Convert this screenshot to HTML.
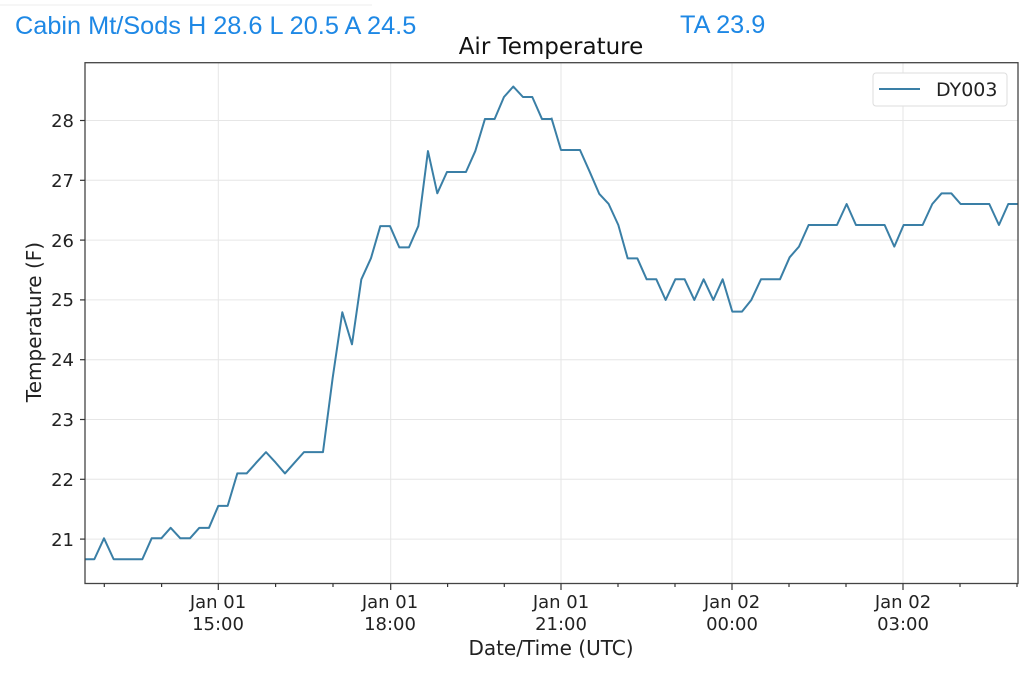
<!DOCTYPE html>
<html><head><meta charset="utf-8"><style>
body{margin:0;background:#fff;width:1024px;height:672px;overflow:hidden}
svg{font-family:"DejaVu Sans","Liberation Sans",sans-serif}
</style></head><body>
<svg width="1024" height="672" viewBox="0 0 1024 672">
<line x1="0" y1="5" x2="372" y2="5" stroke="#eee" stroke-width="1"/>
<text x="15" y="34" font-family="Liberation Sans, sans-serif" font-size="25.3" fill="#1e88e5">Cabin Mt/Sods H 28.6 L 20.5 A 24.5</text>
<text x="680" y="33" font-family="Liberation Sans, sans-serif" font-size="25.3" fill="#1e88e5">TA 23.9</text>
<text x="551" y="54" font-size="23" text-anchor="middle" fill="#111">Air Temperature</text>
<g stroke="#e6e6e6" stroke-width="1">
<line x1="85" x2="1018" y1="120.5" y2="120.5"/><line x1="85" x2="1018" y1="180.3" y2="180.3"/>
<line x1="85" x2="1018" y1="240.1" y2="240.1"/><line x1="85" x2="1018" y1="299.9" y2="299.9"/>
<line x1="85" x2="1018" y1="359.7" y2="359.7"/><line x1="85" x2="1018" y1="419.5" y2="419.5"/>
<line x1="85" x2="1018" y1="479.3" y2="479.3"/><line x1="85" x2="1018" y1="539.1" y2="539.1"/>
<line y1="63" y2="583.5" x1="218.3" x2="218.3"/><line y1="63" y2="583.5" x1="390.7" x2="390.7"/>
<line y1="63" y2="583.5" x1="561" x2="561"/><line y1="63" y2="583.5" x1="732" x2="732"/>
<line y1="63" y2="583.5" x1="903" x2="903"/>
</g>
<g fill="none" stroke="#3a7fa6" stroke-width="2" stroke-linejoin="round">
<polyline transform="translate(80,60.5) scale(0.3333,0.3379)" vector-effect="non-scaling-stroke" points="14,1476 43,1476 72,1414 101,1476 130,1476 158,1476 187,1476 215,1414 244,1414 272,1383 301,1414 330,1414 358,1383 387,1383 415,1318 443,1318 472,1222 500,1222 529,1190 558,1159 587,1190 615,1222 644,1190 672,1159 701,1159 729,1159 758,940 787,745 816,840 844,648 873,585 901,490 930,490 958,553 987,553 1015,490 1044,268 1072,393 1101,330 1129,330 1158,330 1186,268 1215,173 1244,173 1272,108 1300,77 1329,108 1357,108 1386,173 1414,173"/>
<polyline transform="translate(540,60) scale(0.3333)" vector-effect="non-scaling-stroke" points="34,173 63,270 92,270 120,270 149,335 178,402 206,432 235,495 263,595 292,595 320,658 349,658 377,720 406,658 434,658 463,720 491,658 520,720 548,658 577,755 606,755 634,720 663,658 692,658 720,658 749,592 777,560 806,495 834,495 863,495 891,495 920,432 948,495 977,495 1006,495 1034,495 1063,560 1091,495 1120,495 1148,495 1177,432 1205,400 1234,400 1262,432 1291,432 1320,432 1348,432 1377,495 1405,432 1433,432"/>
</g>
<rect x="85" y="62.7" width="933" height="520.8" fill="none" stroke="#444" stroke-width="1.3"/>
<g stroke="#333" stroke-width="1.2">
<line x1="80" x2="85" y1="120.5" y2="120.5"/><line x1="80" x2="85" y1="180.3" y2="180.3"/>
<line x1="80" x2="85" y1="240.1" y2="240.1"/><line x1="80" x2="85" y1="299.9" y2="299.9"/>
<line x1="80" x2="85" y1="359.7" y2="359.7"/><line x1="80" x2="85" y1="419.5" y2="419.5"/>
<line x1="80" x2="85" y1="479.3" y2="479.3"/><line x1="80" x2="85" y1="539.1" y2="539.1"/>
<line y1="583.5" y2="590" x1="218.3" x2="218.3"/><line y1="583.5" y2="590" x1="390.7" x2="390.7"/>
<line y1="583.5" y2="590" x1="561" x2="561"/><line y1="583.5" y2="590" x1="732" x2="732"/>
<line y1="583.5" y2="590" x1="903" x2="903"/>
<line y1="583.5" y2="587" x1="104.3" x2="104.3"/><line y1="583.5" y2="587" x1="161.6" x2="161.6"/>
<line y1="583.5" y2="587" x1="275.6" x2="275.6"/><line y1="583.5" y2="587" x1="333" x2="333"/>
<line y1="583.5" y2="587" x1="447.6" x2="447.6"/><line y1="583.5" y2="587" x1="504.3" x2="504.3"/>
<line y1="583.5" y2="587" x1="618" x2="618"/><line y1="583.5" y2="587" x1="675" x2="675"/>
<line y1="583.5" y2="587" x1="789" x2="789"/><line y1="583.5" y2="587" x1="846" x2="846"/>
<line y1="583.5" y2="587" x1="960" x2="960"/><line y1="583.5" y2="587" x1="1017" x2="1017"/>
</g>
<g font-size="18" fill="#222" text-anchor="end">
<text x="74" y="127">28</text><text x="74" y="187">27</text><text x="74" y="247">26</text>
<text x="74" y="306">25</text><text x="74" y="366">24</text><text x="74" y="426">23</text>
<text x="74" y="486">22</text><text x="74" y="546">21</text>
</g>
<g font-size="18" fill="#222" text-anchor="middle">
<text x="218" y="608">Jan 01</text><text x="218" y="630">15:00</text>
<text x="390" y="608">Jan 01</text><text x="390" y="630">18:00</text>
<text x="561" y="608">Jan 01</text><text x="561" y="630">21:00</text>
<text x="732" y="608">Jan 02</text><text x="732" y="630">00:00</text>
<text x="903" y="608">Jan 02</text><text x="903" y="630">03:00</text>
<text x="551" y="655" font-size="20">Date/Time (UTC)</text>
<text transform="translate(41,322) rotate(-90)" font-size="20">Temperature (F)</text>
</g>
<rect x="873" y="73" width="134" height="33" rx="3" fill="#fff" stroke="#ddd"/>
<line x1="879" x2="920" y1="89" y2="89" stroke="#3a7fa6" stroke-width="2"/>
<text x="936" y="96" font-size="19" fill="#222">DY003</text>
</svg>
</body></html>
